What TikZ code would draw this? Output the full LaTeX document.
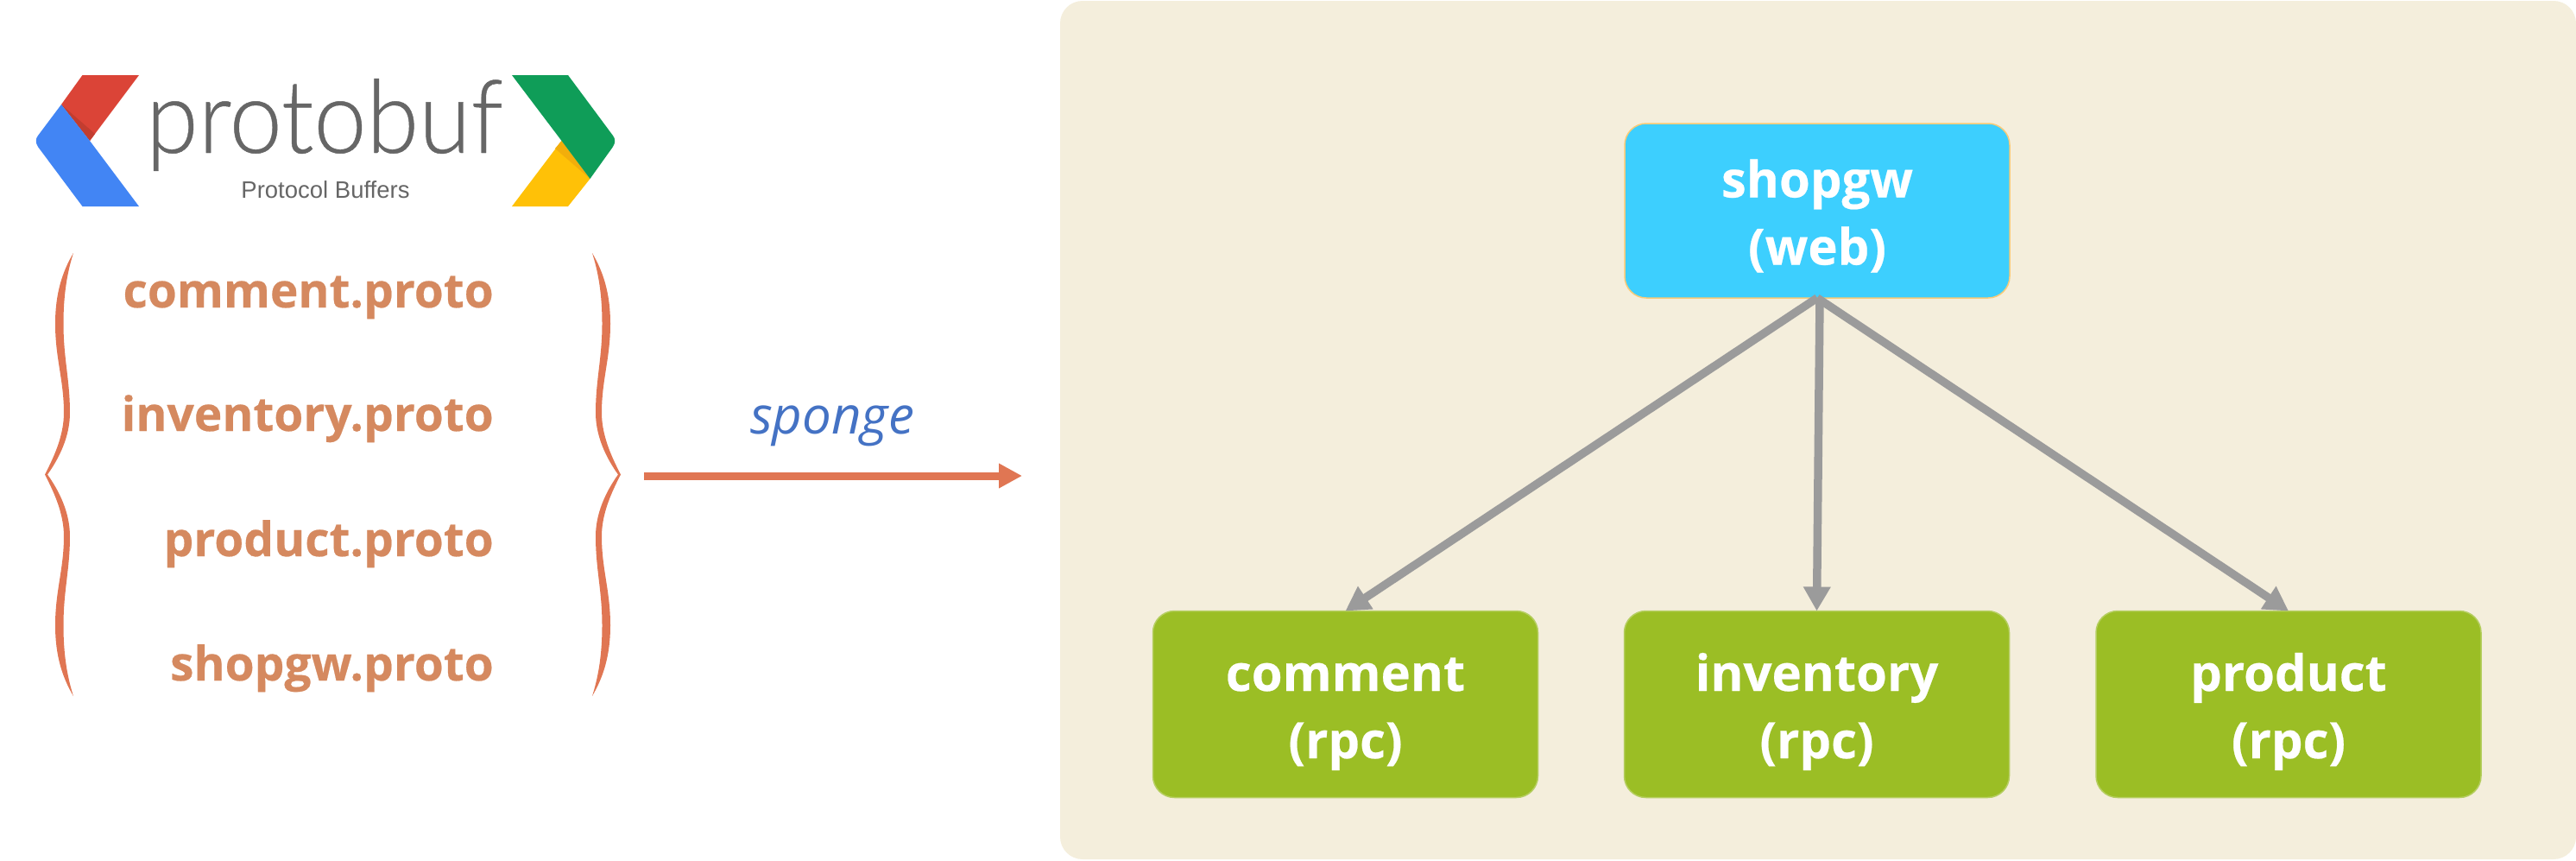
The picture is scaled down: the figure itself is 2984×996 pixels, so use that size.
\documentclass[tikz,border=0pt]{standalone}
\usepackage{fontspec}
\setmainfont{Open Sans}[BoldFeatures={FakeBold=0.4}]
\newfontfamily\logofont{Lato Light}[FakeBold=0.4]
\newfontfamily\subfont{Liberation Sans}
\usetikzlibrary{arrows.meta}
\definecolor{panelc}{HTML}{F4EEDC}
\definecolor{webc}{HTML}{3DCFFE}
\definecolor{webedge}{HTML}{F9CB78}
\definecolor{rpcc}{HTML}{9BBE25}
\definecolor{rpcedge}{HTML}{B5CE60}
\definecolor{linkc}{HTML}{9B9B9B}
\definecolor{protoc}{HTML}{D5895F}
\definecolor{bracec}{HTML}{E07653}
\definecolor{spongec}{HTML}{4472C4}
\definecolor{logogray}{HTML}{666666}
\definecolor{gred}{HTML}{DB4437}
\definecolor{gredd}{HTML}{C23D30}
\definecolor{gblue}{HTML}{4285F4}
\definecolor{ggreen}{HTML}{0F9D58}
\definecolor{gyellow}{HTML}{FFC107}
\definecolor{gyellowd}{HTML}{F2AE0B}
\tikzset{
  svc/.style={rectangle,rounded corners=25pt,minimum width=446pt,minimum height=216pt,
    inner sep=0pt,outer sep=0pt,line width=1.5pt,text=white,align=center,
    font=\fontsize{58}{78}\selectfont\bfseries},
  webbox/.style={svc,fill=webc,draw=webedge,minimum height=202pt},
  rpcbox/.style={svc,fill=rpcc,draw=rpcedge},
  link/.style={draw=linkc,line width=9.5pt,-{Triangle[length=28pt,width=30pt]}},
  protofile/.style={anchor=base east,inner sep=0pt,text=protoc,
    font=\fontsize{55}{66}\selectfont\bfseries},
  flow/.style={draw=bracec,line width=9pt,-{Triangle[length=27pt,width=27pt]}},
  bracefill/.style={fill=bracec,draw=none}
}
\newcommand{\svctext}[2]{\rule{0pt}{61pt}#1\\#2\rule[-14pt]{0pt}{14pt}}
\newcommand{\bracepath}{%
  \fill[bracefill] (85,293)
    .. controls (72,315) and (64,340) .. (64,375)
    .. controls (64,415) and (74,440) .. (74,478)
    .. controls (74,505) and (62,530) .. (52,549.5)
    .. controls (62,569) and (74,594) .. (74,621)
    .. controls (74,659) and (64,684) .. (64,724)
    .. controls (64,759) and (72,784) .. (85,806)
    .. controls (78,784) and (73.5,759) .. (73.5,724)
    .. controls (73.5,684) and (81,659) .. (81,621)
    .. controls (81,594) and (69,569) .. (55,549.5)
    .. controls (69,530) and (81,505) .. (81,478)
    .. controls (81,440) and (73.5,415) .. (73.5,375)
    .. controls (73.5,340) and (78,315) .. (85,293) -- cycle;
}
\begin{document}
\begin{tikzpicture}[x=1pt,y=-1pt]
\useasboundingbox (0,0) rectangle (2984,996);
% panel
\fill[panelc,rounded corners=26pt] (1228,1) rectangle (2984,995);
% logo
\fill[gred] (95.5,87) -- (161,87) -- (104,163) -- (71,121) -- cycle;
\fill[gredd] (71,121) -- (104,163) -- (110,155) -- cycle;
\fill[gblue] (71,121) -- (44,157) .. controls (41,161) and (41,165) .. (44,170) -- (95.5,239) -- (161,239) -- (104,163) -- cycle;
\fill[gyellow] (650.5,163) -- (683.5,207) -- (658,239) -- (593,239) -- cycle;
\fill[gyellowd] (650.5,163) -- (683.5,207) -- (643,172) -- cycle;
\fill[ggreen] (593,87) -- (658,87) -- (710,157) .. controls (713,161) and (713,165) .. (710,170) -- (683.5,207) -- (650.5,163) -- cycle;
\node[anchor=base west,inner sep=0pt,text=logogray,font=\fontsize{118}{118}\logofont] (logotext) at (169,177) {\scalebox{0.93}[1]{protobuf}};
\node[anchor=base,inner sep=0pt,text=logogray,font=\fontsize{27.5}{27.5}\subfont] (logosub) at (377,229) {Protocol Buffers};
% proto files
\node[protofile] (pc) at (572,356) {comment.proto};
\node[protofile] (pi) at (572,499) {inventory.proto};
\node[protofile] (pp) at (572,644) {product.proto};
\node[protofile] (ps) at (572,788) {shopgw.proto};
% braces
\bracepath
\begin{scope}[shift={(771,0)},xscale=-1]
\bracepath
\end{scope}
% sponge arrow
\coordinate (flowa) at (746,551);
\coordinate (flowb) at (1184,551);
\draw[flow] (flowa) -- (flowb);
\node[anchor=base,inner sep=0pt,text=spongec,font=\fontsize{60}{60}\selectfont\itshape] (spongelabel) at (964,502) {sponge};
% services
\node[webbox] (shopgw) at (2105,244) {\svctext{shopgw}{(web)}};
\node[rpcbox] (comment) at (1558.5,815.5) {\svctext{comment}{(rpc)}};
\node[rpcbox] (inventory) at (2104.5,815.5) {\svctext{inventory}{(rpc)}};
\node[rpcbox] (product) at (2651,815.5) {\svctext{product}{(rpc)}};
\draw[link] (shopgw.south) -- (comment.north);
\draw[link] ([xshift=3pt]shopgw.south) -- (inventory.north);
\draw[link] (shopgw.south) -- (product.north);
\end{tikzpicture}
\end{document}
